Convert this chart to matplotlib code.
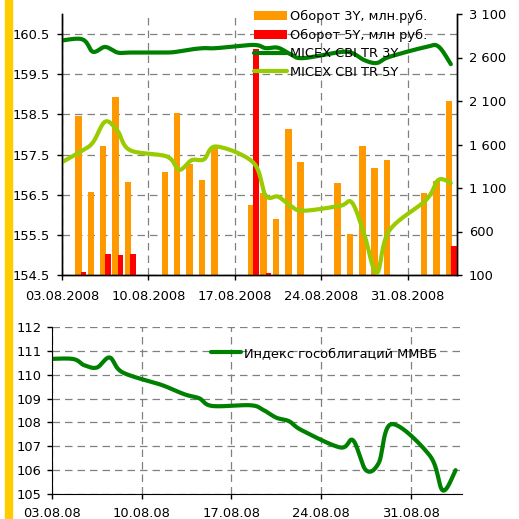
import numpy as np
import pandas as pd
import matplotlib
matplotlib.use('Agg')
import matplotlib.pyplot as plt
import matplotlib.dates as mdates
from matplotlib.ticker import FuncFormatter, FormatStrFormatter, MultipleLocator
from matplotlib.transforms import blended_transform_factory
from matplotlib.patches import Rectangle

plt.rcParams['font.family'] = ['DejaVu Sans']

# trading days with turnover bars
trade_days = ['04.08.2008', '05.08.2008', '06.08.2008', '07.08.2008', '08.08.2008',
              '11.08.2008', '12.08.2008', '13.08.2008', '14.08.2008', '15.08.2008',
              '18.08.2008', '19.08.2008', '20.08.2008', '21.08.2008', '22.08.2008',
              '25.08.2008', '26.08.2008', '27.08.2008', '28.08.2008', '29.08.2008',
              '01.09.2008', '02.09.2008', '03.09.2008']
turnover_3y = [1925, 1052, 1579, 2141, 1167,
               1281, 1958, 1373, 1189, 1556,
               903, 1040, 742, 1774, 1396,
               1155, 570, 1579, 1327, 1419,
               1040, 1178, 2095]
turnover_5y = [135, 0, 340, 330, 340,
               0, 0, 0, 0, 0,
               2700, 120, 0, 0, 0,
               0, 0, 0, 0, 0,
               0, 0, 433]

# index lines (one extra day before the visible range)
line_days = ['01.08.2008'] + trade_days
cbi_3y = [160.25, 160.38, 160.06, 160.18, 160.04, 160.04,
          160.04, 160.07, 160.12, 160.15, 160.15,
          160.23, 160.15, 160.16, 160.0, 159.9,
          160.05, 160.03, 159.85, 159.78, 159.93,
          160.18, 160.19, 159.75]
cbi_5y = [157.05, 157.57, 157.8, 158.32, 158.09, 157.61,
          157.45, 157.12, 157.36, 157.38, 157.7,
          157.3, 156.48, 156.45, 156.23, 156.1,
          156.22, 156.3, 155.5, 154.55, 155.6,
          156.37, 156.87, 156.79]
mmvb = [110.62, 110.67, 110.4, 110.3, 110.72, 110.1,
        109.58, 109.36, 109.15, 109.01, 108.69,
        108.72, 108.52, 108.2, 108.05, 107.67,
        106.95, 107.25, 106.0, 106.3, 107.93,
        106.6, 105.15, 106.0]


def smooth(x, y, ky, n=16):
    # excel-like bezier smoothing; ky = screen aspect (y units -> x units)
    P = np.column_stack([x, np.asarray(y, float) * ky])
    out = []
    t = np.linspace(0, 1, n)[:, None]
    for i in range(len(P) - 1):
        p0, p1 = P[max(i - 1, 0)], P[i]
        p2, p3 = P[i + 1], P[min(i + 2, len(P) - 1)]
        c1 = p1 + (p2 - p0) / 6
        c2 = p2 - (p3 - p1) / 6
        seg = (1 - t)**3 * p1 + 3 * (1 - t)**2 * t * c1 + 3 * (1 - t) * t**2 * c2 + t**3 * p2
        out.append(seg if i == 0 else seg[1:])
    c = np.vstack(out)
    return c[:, 0], c[:, 1] / ky


xb = mdates.date2num(pd.to_datetime(trade_days, format='%d.%m.%Y'))
xl = mdates.date2num(pd.to_datetime(line_days, format='%d.%m.%Y')) + 0.5
x0 = mdates.date2num(pd.Timestamp('2008-08-03'))
x1 = mdates.date2num(pd.Timestamp('2008-09-04'))

ORANGE = '#FF9900'
RED = '#FF0000'
GREEN = '#008000'
LIME = '#99CC00'
FS = 9.4
grid_kw = dict(color='#808080', lw=0.9, ls=(0, (6, 4)))

fig = plt.figure(figsize=(5.19, 5.19), dpi=100)
fig.patches.append(Rectangle((5 / 519, 0), 7 / 519, 1, transform=fig.transFigure,
                             color='#FFCC00', zorder=0))

# ---- top chart ----
ax = fig.add_axes([62 / 519, 1 - 275 / 519, 395 / 519, 261 / 519])
axl = ax.twinx()

ax.bar(xb + 0.07, turnover_3y, width=0.53, align='edge', color=ORANGE, zorder=2,
       label='Оборот 3Y, млн.руб.')
ax.bar(xb + 0.5, turnover_5y, width=0.46, align='edge', color=RED, zorder=3,
       label='Оборот 5Y, млн руб.')
ax.set_ylim(100, 3100)
ax.set_yticks(np.arange(100, 3101, 500))
ax.yaxis.set_major_formatter(FuncFormatter(lambda v, p: f'{int(v):,}'.replace(',', ' ')))
ax.yaxis.tick_right()
ax.set_xlim(x0, x1)
ax.xaxis.set_major_locator(mdates.WeekdayLocator(byweekday=mdates.SU))
ax.xaxis.set_major_formatter(mdates.DateFormatter('%d.%m.%Y'))
ax.set_axisbelow(True)
ax.grid(axis='x', **grid_kw)

sx, sy = smooth(xl, cbi_3y, 3.26)
axl.plot(sx, sy, color=GREEN, lw=3.0, solid_capstyle='round', label='MICEX CBI TR 3Y')
sx, sy = smooth(xl, cbi_5y, 3.26)
axl.plot(sx, sy, color=LIME, lw=3.0, solid_capstyle='round', label='MICEX CBI TR 5Y')
axl.set_ylim(154.5, 161.0)
axl.set_yticks(np.arange(154.5, 160.6, 1.0))
axl.yaxis.set_major_formatter(FormatStrFormatter('%.1f'))
axl.yaxis.tick_left()
axl.set_xlim(x0, x1)

# horizontal grid follows the left (index) scale, drawn under the bars
tr = blended_transform_factory(ax.transAxes, axl.transData)
for v in np.arange(154.5, 160.6, 1.0):
    ax.plot([0, 1], [v, v], transform=tr, zorder=0.5, **grid_kw)

for a in (ax, axl):
    a.spines['top'].set_visible(False)
    for s in ('left', 'right', 'bottom'):
        a.spines[s].set_linewidth(1.0)
    a.tick_params(labelsize=FS, length=3.5, width=1.0, colors='black')
ax.tick_params(axis='x', pad=7)
ax.tick_params(axis='y', pad=5)
axl.tick_params(axis='y', pad=5)

h1, l1 = ax.get_legend_handles_labels()
h2, l2 = axl.get_legend_handles_labels()
axl.legend(h1 + h2, l1 + l2, loc='upper left', bbox_to_anchor=(254 / 519, 1 - 10 / 519),
           bbox_transform=fig.transFigure, frameon=False, fontsize=FS, borderpad=0,
           borderaxespad=0, handlelength=2.5, handletextpad=0.25, labelspacing=0.42)

# ---- bottom chart ----
bx = fig.add_axes([52 / 519, 1 - 494 / 519, 410 / 519, 167 / 519])
sx, sy = smooth(xl, mmvb, 1.86)
bx.plot(sx, sy, color=GREEN, lw=3.0, solid_capstyle='round', label='Индекс гособлигаций ММВБ')
bx.set_xlim(x0, x1)
bx.set_ylim(105, 112)
bx.yaxis.set_major_locator(MultipleLocator(1))
bx.xaxis.set_major_locator(mdates.WeekdayLocator(byweekday=mdates.SU))
bx.xaxis.set_major_formatter(mdates.DateFormatter('%d.%m.%y'))
bx.grid(True, **grid_kw)
bx.set_axisbelow(True)
bx.spines['top'].set_visible(False)
bx.spines['right'].set_visible(False)
bx.tick_params(labelsize=FS, length=3.5, width=1.0, colors='black')
bx.tick_params(axis='x', pad=6)
bx.tick_params(axis='y', pad=4)
bx.legend(loc='upper left', bbox_to_anchor=(211 / 519, 1 - 347 / 519),
          bbox_transform=fig.transFigure, frameon=False, fontsize=FS, borderpad=0,
          borderaxespad=0, handlelength=2.3, handletextpad=0.2)

fig.savefig('out.png', dpi=100)
